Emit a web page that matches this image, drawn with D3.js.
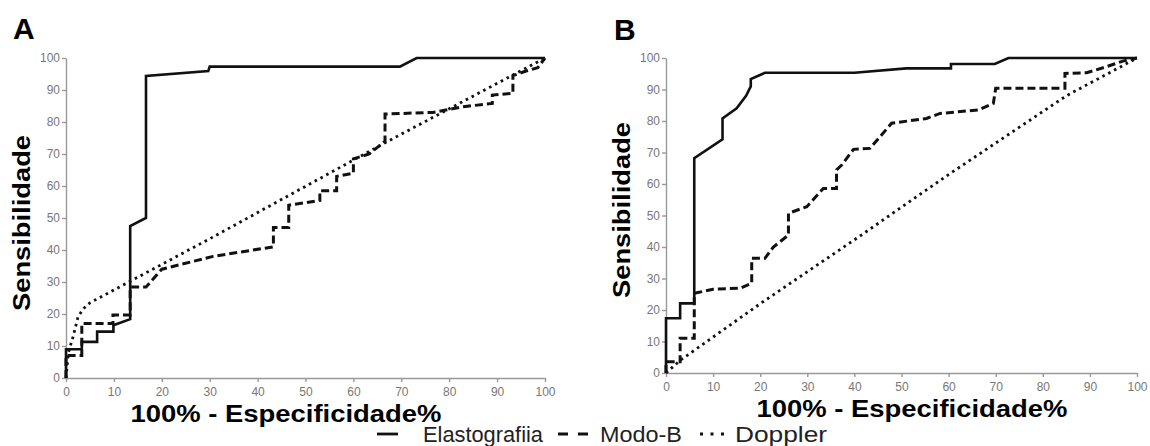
<!DOCTYPE html>
<html>
<head>
<meta charset="utf-8">
<script src="https://cdn.jsdelivr.net/npm/d3@7"></script>
<style>
  body { margin: 0; background: #fff; }
  svg { display: block; font-family: "Liberation Sans", Arial, sans-serif; }
  .axis path, .axis line { stroke: #999; stroke-width: 1.4; }
  .axis text { fill: #777; font-size: 12px; }
  .title { font-weight: bold; fill: #000; }
</style>
</head>
<body>
<div id="chart"></div>
<script>
// ROC curves: [100% - especificidade, sensibilidade]
const elastoA = [[0,0],[0,9],[3.3,9],[3.3,11.3],[6.5,11.3],[6.5,14.5],[9.9,14.5],[9.9,16.5],[13.4,18.4],
  [13.4,47.5],[16.7,50],[16.7,94.4],[29.7,95.9],[30,97.3],[69.7,97.3],[73.2,100],[100,100]];
const modoA = [[0,0],[0,7],[3.3,7],[3.3,17],[9.8,17],[9.8,19.7],[13.4,19.7],[13.4,28.4],[16.7,28.4],
  [20,34],[30.7,38],[43.3,41],[43.3,47],[46.5,47],[46.5,54],[53,55.5],[53,58.5],[56.5,58.5],[56.5,63],
  [60,64],[60,68.5],[63.3,70],[66.6,74],[66.6,82.5],[76.6,83],[83,84.8],[89,85.8],[89,88.4],[93.3,89],
  [93.3,94.5],[96.2,96],[98.5,97],[100,100]];
const dopplerA = [[0,0],[0.5,8],[1.5,13],[2.5,19],[3.5,21.5],[5,23.5],[30,43.5],[66.6,73.5],[100,100]];

const elastoB = [[0,0],[0,17.4],[3,17.4],[3,22.1],[6,22.1],[6,68.2],[12,74.2],[12,80.8],[15,84],[17,88],
  [18,91],[18,93.3],[21,95.3],[40,95.3],[51,96.7],[60.5,96.7],[60.5,98.1],[69.8,98.1],[72.7,100],[100,100]];
const modoB = [[0,0],[0,3.6],[3,3.6],[3,11],[6,11],[6,25.3],[10,26.6],[15.7,26.9],[18.2,28.5],[18.2,36.4],
  [21,36.4],[22.8,40],[26,43.8],[26,50.7],[29.9,52.8],[33.4,58.6],[36.2,58.6],[36.2,64.5],[37.3,66],
  [39.8,71],[43.3,71.3],[47.9,79.3],[55.3,80.8],[58.2,82.4],[66.3,83.5],[69.5,85.6],[70,90.4],[84.7,90.4],
  [84.7,95.1],[89.3,95.3],[93,97],[97,99],[100,100]];
const dopplerB = [[0,0],[3,4],[20,22],[41,43.3],[60,63],[85,88],[100,100]];

const ticks = [0, 10, 20, 30, 40, 50, 60, 70, 80, 90, 100];
const seriesNames = ["Elastografiia", "Modo-B", "Doppler"];
const panelLabels = ["A", "B"];
const yTitle = "Sensibilidade";
const xTitle = "100% - Especificidade%";

const styles = [
  {dash: null, width: 2.6},
  {dash: "8,4", width: 3},
  {dash: "2.6,4", width: 2.8}
];

const svg = d3.select("#chart").append("svg").attr("width", 1150).attr("height", 446);

function drawPanel(p) {
  const x = d3.scaleLinear().domain([0, 100]).range([p.left, p.right]);
  const y = d3.scaleLinear().domain([0, 100]).range([p.bottom, p.top]);

  svg.append("g").attr("class", "axis")
    .attr("transform", `translate(0,${p.bottom})`)
    .call(d3.axisBottom(x).tickValues(ticks).tickSize(4).tickSizeOuter(0).tickPadding(5));
  svg.append("g").attr("class", "axis")
    .attr("transform", `translate(${p.left},0)`)
    .call(d3.axisLeft(y).tickValues(ticks).tickSize(4).tickSizeOuter(0).tickPadding(2));

  const line = d3.line().x(d => x(d[0])).y(d => y(d[1]));
  p.series.forEach((s, i) => {
    svg.append("path").datum(s)
      .attr("d", line)
      .attr("fill", "none")
      .attr("stroke", "#111")
      .attr("stroke-width", styles[i].width)
      .attr("stroke-dasharray", styles[i].dash);
  });

  svg.append("text").attr("class", "title")
    .attr("x", p.labelX).attr("y", p.labelY)
    .style("font-size", "30px")
    .text(p.label);

  svg.append("text").attr("class", "title")
    .attr("transform", `translate(${p.yTitleX},${p.yTitleY}) rotate(-90)`)
    .attr("text-anchor", "middle")
    .style("font-size", "24px")
    .attr("textLength", 176).attr("lengthAdjust", "spacingAndGlyphs")
    .text(yTitle);

  svg.append("text").attr("class", "title")
    .attr("x", p.xTitleX).attr("y", p.xTitleY)
    .attr("text-anchor", "middle")
    .style("font-size", "23px")
    .attr("textLength", 311).attr("lengthAdjust", "spacingAndGlyphs")
    .text(xTitle);
}

drawPanel({label: panelLabels[0], left: 66, right: 545, top: 58, bottom: 378,
  labelX: 13, labelY: 39, yTitleX: 30, yTitleY: 223, xTitleX: 286, xTitleY: 422,
  series: [elastoA, modoA, dopplerA]});
drawPanel({label: panelLabels[1], left: 666, right: 1137, top: 58, bottom: 373,
  labelX: 614, labelY: 40, yTitleX: 630, yTitleY: 210, xTitleX: 912, xTitleY: 417,
  series: [elastoB, modoB, dopplerB]});

// legend
const legend = [
  {x1: 377, x2: 398, tx: 423, len: 120},
  {x1: 558, x2: 588, tx: 600, len: 82},
  {x1: 700, x2: 724, tx: 735, len: 92}
];
const legendDash = [null, "10,10", "3,7.5"];
legend.forEach((l, i) => {
  svg.append("line")
    .attr("x1", l.x1).attr("x2", l.x2).attr("y1", 434).attr("y2", 434)
    .attr("stroke", "#111").attr("stroke-width", 2.8)
    .attr("stroke-dasharray", legendDash[i]);
  svg.append("text")
    .attr("x", l.tx).attr("y", 442)
    .style("font-size", "22px").style("fill", "#222")
    .attr("textLength", l.len).attr("lengthAdjust", "spacingAndGlyphs")
    .text(seriesNames[i]);
});
</script>
</body>
</html>
